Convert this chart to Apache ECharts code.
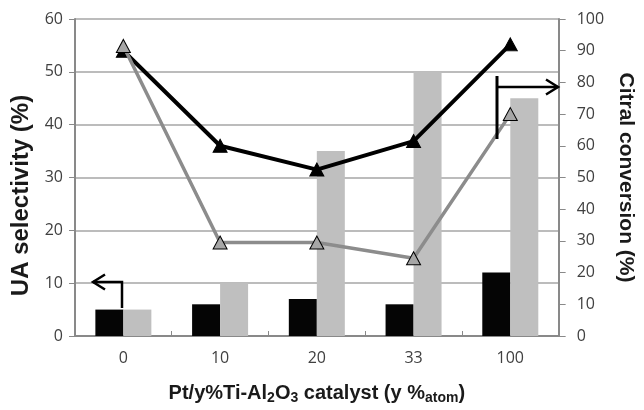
<!DOCTYPE html>
<html>
<head>
<meta charset="utf-8">
<script src="https://cdn.jsdelivr.net/npm/echarts@6/dist/echarts.min.js"></script>
<style>html,body{margin:0;padding:0;background:#fff}#c{width:644px;height:410px}</style>
</head>
<body>
<div id="c"></div>
<script>
// Data
const categories = ['0', '10', '20', '33', '100'];
const uaBlackBars = [5, 6, 7, 6, 12];        // UA selectivity (%), black bars
const uaGrayBars = [5, 10, 35, 50, 45];      // UA selectivity (%), gray bars
const convBlackLine = [90, 60, 52.5, 61.5, 92];   // Citral conversion (%), black line
const convGrayLine = [91.5, 29.5, 29.5, 24.5, 70]; // Citral conversion (%), gray line
const leftTicks = [0, 10, 20, 30, 40, 50, 60];
const rightTicks = [0, 10, 20, 30, 40, 50, 60, 70, 80, 90, 100];

const tickFont = { fontFamily: 'Open Sans', fontSize: 16, color: '#404040' };
const axisGray = '#898989';

const chart = echarts.init(document.getElementById('c'), null, { renderer: 'canvas' });
chart.setOption({
  animation: false,
  backgroundColor: '#ffffff',
  grid: { left: 75, right: 76, top: 19, bottom: 66, containLabel: false },
  xAxis: {
    type: 'category',
    data: categories,
    boundaryGap: true,
    axisLine: { lineStyle: { color: axisGray, width: 2 } },
    axisTick: { show: true, inside: true, length: 5, lineStyle: { color: axisGray, width: 1 } },
    axisLabel: Object.assign({ margin: 14 }, tickFont),
    name: '{m|Pt/y%Ti-Al}{s|2}{m|O}{s|3}{m| catalyst (y %}{s|atom}{m|)}',
    nameLocation: 'middle',
    nameGap: 45,
    nameTextStyle: {
      rich: {
        m: { fontFamily: 'Liberation Sans', fontWeight: 'bold', fontSize: 20, lineHeight: 24, color: '#1a1a1a' },
        s: { fontFamily: 'Liberation Sans', fontWeight: 'bold', fontSize: 14, lineHeight: 14, verticalAlign: 'bottom', color: '#1a1a1a' }
      }
    }
  },
  yAxis: [
    {
      type: 'value', min: 0, max: 60, interval: 10,
      axisLine: { show: true, lineStyle: { color: axisGray, width: 2 } },
      axisTick: { show: true, length: 6, lineStyle: { color: axisGray } },
      splitLine: { show: true, lineStyle: { color: '#a6a6a6', width: 1.5 } },
      axisLabel: Object.assign({ margin: 12 }, tickFont),
      name: 'UA selectivity (%)',
      nameLocation: 'middle',
      nameGap: 42,
      nameRotate: 90,
      nameTextStyle: { fontFamily: 'Liberation Sans', fontWeight: 'bold', fontSize: 24, color: '#1a1a1a', padding: [0, 36, 0, 0] }
    },
    {
      type: 'value', min: 0, max: 100, interval: 10,
      position: 'right',
      axisLine: { show: true, lineStyle: { color: axisGray, width: 2 } },
      axisTick: { show: true, length: 7, lineStyle: { color: axisGray } },
      splitLine: { show: false },
      axisLabel: Object.assign({ margin: 18 }, tickFont),
      name: 'Citral conversion (%)',
      nameLocation: 'middle',
      nameGap: 56,
      nameRotate: -90,
      nameTextStyle: { fontFamily: 'Liberation Sans', fontWeight: 'bold', fontSize: 21, color: '#1a1a1a' }
    }
  ],
  series: [
    {
      type: 'bar', yAxisIndex: 0, data: uaBlackBars, barWidth: 28, barGap: '0%',
      itemStyle: { color: '#050505' }, z: 2
    },
    {
      type: 'bar', yAxisIndex: 0, data: uaGrayBars, barWidth: 28, barGap: '0%',
      itemStyle: { color: '#bfbfbf' }, z: 2
    },
    {
      type: 'line', yAxisIndex: 1, data: convBlackLine,
      symbol: 'triangle', symbolSize: [14, 13], showAllSymbol: true,
      lineStyle: { color: '#000000', width: 4 },
      itemStyle: { color: '#000000', borderColor: '#000000', borderWidth: 1 },
      z: 5
    },
    {
      type: 'line', yAxisIndex: 1, data: convGrayLine,
      symbol: 'triangle', symbolSize: [14, 13], showAllSymbol: true,
      lineStyle: { color: '#8c8c8c', width: 3.5 },
      itemStyle: { color: '#a6a6a6', borderColor: '#000000', borderWidth: 1 },
      z: 6
    }
  ],
  graphic: [
    // left-pointing annotation arrow (bars -> left axis)
    { type: 'polyline', z: 10, shape: { points: [[122, 308], [122, 282], [93, 282]] }, style: { stroke: '#000', lineWidth: 2.5, fill: null } },
    { type: 'polyline', z: 10, shape: { points: [[105, 274.5], [93, 282], [105, 289.5]] }, style: { stroke: '#000', lineWidth: 2.5, fill: null } },
    // right-pointing annotation arrow (lines -> right axis)
    { type: 'line', z: 10, shape: { x1: 497, y1: 76, x2: 497, y2: 139 }, style: { stroke: '#000', lineWidth: 3 } },
    { type: 'line', z: 10, shape: { x1: 497, y1: 87, x2: 558, y2: 87 }, style: { stroke: '#000', lineWidth: 2.5 } },
    { type: 'polyline', z: 10, shape: { points: [[546, 79.5], [558, 87], [546, 94.5]] }, style: { stroke: '#000', lineWidth: 2.5, fill: null } }
  ]
});
</script>
</body>
</html>
